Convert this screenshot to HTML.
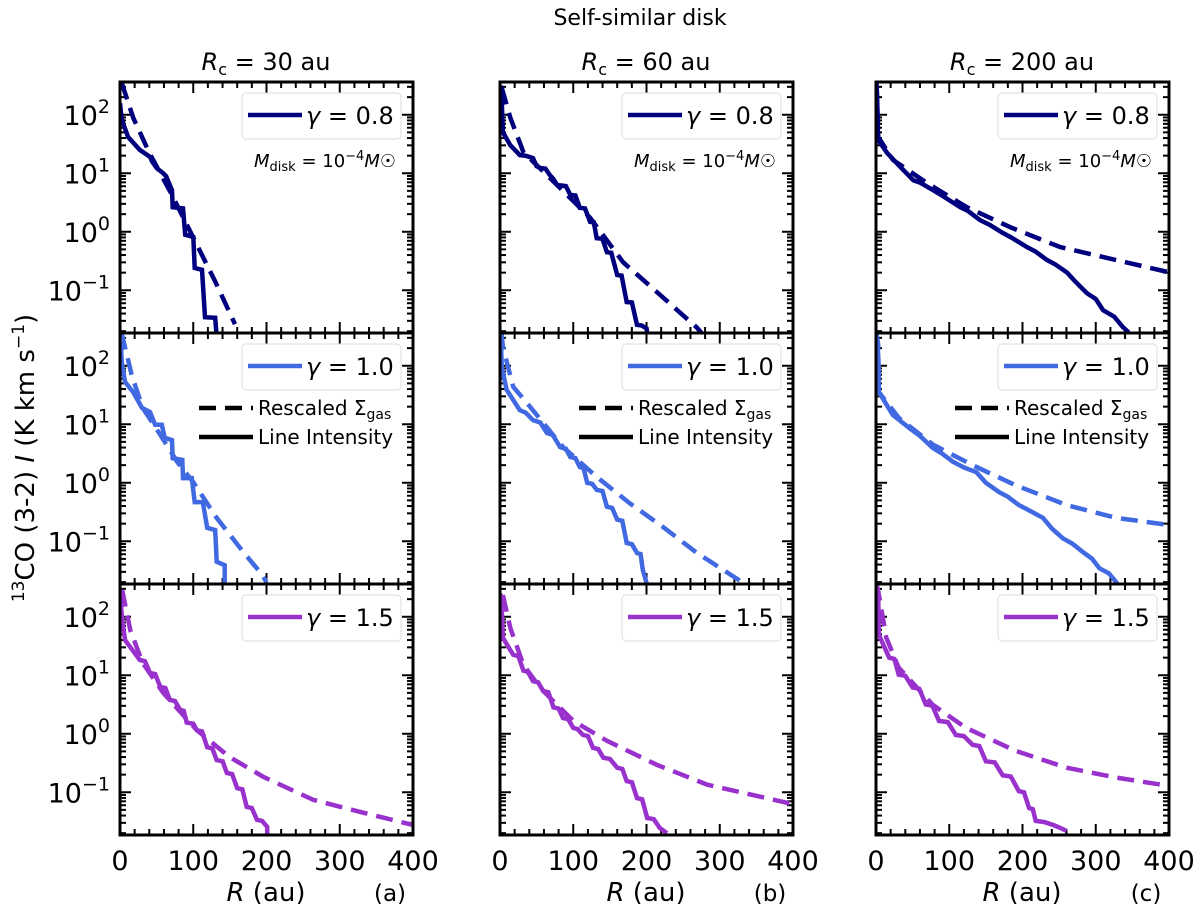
<!DOCTYPE html>
<html><head><meta charset="utf-8">
<style>
html,body{margin:0;padding:0;background:#fff;}
svg{display:block;font-family:"DejaVu Sans","Liberation Sans",sans-serif;}
</style></head>
<body>
<svg id="fig" width="1200" height="904" viewBox="0 0 1200 904" xmlns="http://www.w3.org/2000/svg">
<text x="640" y="25" font-size="22" text-anchor="middle">Self-similar disk</text>
<text transform="translate(34,458) rotate(-90)" font-size="26" text-anchor="middle"><tspan font-size="17" dy="-10">13</tspan><tspan dy="10">CO (3-2) </tspan><tspan font-style="italic">I</tspan><tspan> (K km s</tspan><tspan font-size="17" dy="-10">−1</tspan><tspan dy="10">)</tspan></text>
</svg>
<script>
// ---- data (R in au, log10 intensity) ----
const colTitles = ["30", "60", "200"];
const panelTags = ["(a)", "(b)", "(c)"];
const gammaLabels = ["0.8", "1.0", "1.5"];
const xTicks = [0, 100, 200, 300, 400];
const yTickExps = [2, 1, 0, -1];

const solidR_00 = [0,2,4,11,27,41,44,50,59,63,71,72,86,89,100,102,112,116,130,132];
const solidL_00 = [2.2,1.95,1.86,1.62,1.4,1.28,1.2,1.09,1.0,0.95,0.71,0.42,0.4,-0.05,-0.09,-0.62,-0.65,-1.46,-1.47,-1.8];
const dashR_00 = [2.5,18,40,70,100,130,157];
const dashL_00 = [2.54,1.95,1.35,0.65,-0.1,-0.85,-1.58];

const solidR_01 = [1,2,4,14,27,35,45,50,55,62,68,73,78,90,96,103,109,116,123,128,132,140,146,152,160,166,173,180,187,193,200,202];
const solidL_01 = [2.5,2.34,1.7,1.48,1.31,1.3,1.26,1.12,1.09,1.08,0.97,0.9,0.8,0.78,0.63,0.62,0.41,0.4,0.17,0.16,-0.11,-0.12,-0.35,-0.36,-0.74,-0.75,-1.2,-1.21,-1.59,-1.6,-1.65,-1.8];
const dashR_01 = [2.5,14,32,78,123,168,214,269,280];
const dashL_01 = [2.46,1.95,1.36,0.8,0.24,-0.52,-1.03,-1.64,-1.8];

const solidR_02 = [0.5,1.4,3,15,33,51,60,78,90,115,125,142,155,173,185,206,218,233,245,261,272,288,300,310,325,337,345];
const solidL_02 = [2.56,2.37,1.57,1.35,1.11,0.88,0.84,0.71,0.62,0.42,0.36,0.2,0.12,-0.02,-0.1,-0.26,-0.34,-0.48,-0.56,-0.7,-0.85,-1.05,-1.15,-1.34,-1.45,-1.63,-1.72];
const dashR_02 = [0.5,3,23,70,124,183,251,296,399];
const dashL_02 = [2.56,1.62,1.23,0.83,0.42,0.08,-0.26,-0.39,-0.69];

const solidR_10 = [0.5,2.5,7,18,30,41,48,57,61,71,72,85,86,98,102,113,119,130,132,143,143];
const solidL_10 = [2.5,2.06,1.72,1.55,1.28,1.21,0.99,0.99,0.77,0.73,0.42,0.39,0.08,0.08,-0.33,-0.33,-0.77,-0.81,-1.35,-1.41,-1.8];
const dashR_10 = [2,4,16,31,55,78,100,132,168,194,200];
const dashL_10 = [2.56,2.47,1.84,1.28,0.82,0.36,0.01,-0.6,-1.18,-1.57,-1.7];

const solidR_11 = [1,2.5,9,27,35,45,55,64,72,82,90,96,103,109,114,119,126,132,140,146,153,160,167,173,180,187,192,195,200,202];
const solidL_11 = [2.5,1.98,1.59,1.24,1.2,1.07,1.03,0.85,0.82,0.61,0.58,0.44,0.42,0.27,0.25,0,-0.02,-0.12,-0.14,-0.41,-0.43,-0.63,-0.65,-1.03,-1.05,-1.2,-1.22,-1.49,-1.71,-1.8];
const dashR_11 = [2,4,18,41,86,132,177,223,269,332,340];
const dashL_11 = [2.56,2.32,1.64,1.3,0.61,0.1,-0.35,-0.76,-1.2,-1.71,-1.8];

const solidR_12 = [0.5,3,4,23,45,60,78,90,105,120,137,150,168,180,195,210,228,240,255,268,282,295,305,318,328,332];
const solidL_12 = [2.56,2.18,1.55,1.16,0.94,0.8,0.59,0.5,0.36,0.26,0.18,0.0,-0.16,-0.24,-0.38,-0.48,-0.6,-0.78,-0.95,-1.04,-1.18,-1.3,-1.46,-1.55,-1.7,-1.8];
const dashR_12 = [0.5,3,4,31,78,132,190,260,328,399];
const dashL_12 = [2.56,2.36,1.55,1.11,0.65,0.3,-0.04,-0.38,-0.6,-0.72];

const solidR_20 = [0.5,3,7,27,34,41,48,55,62,68,75,82,87,91,100,105,112,119,126,132,140,146,153,160,167,173,180,187,194,201,201];
const solidL_20 = [2.3,1.95,1.6,1.26,1.24,1.04,1.02,0.8,0.78,0.58,0.56,0.41,0.39,0.19,0.17,0.06,0.04,-0.23,-0.25,-0.45,-0.47,-0.67,-0.69,-0.93,-0.95,-1.25,-1.27,-1.47,-1.49,-1.59,-1.8];
const dashR_20 = [3,14,31,59,105,150,196,264,332,400];
const dashL_20 = [2.46,1.77,1.21,0.7,0.06,-0.4,-0.74,-1.13,-1.35,-1.56];

const solidR_21 = [0.5,3,4,18,25,32,38,45,52,59,66,73,80,86,93,100,106,113,120,127,134,141,150,160,167,173,180,187,194,201,210,218,228];
const solidL_21 = [2.4,1.98,1.64,1.35,1.33,1.08,1.06,0.9,0.88,0.73,0.71,0.45,0.43,0.27,0.25,0.1,0.08,-0.02,-0.04,-0.24,-0.26,-0.41,-0.43,-0.58,-0.6,-0.81,-0.83,-1.1,-1.12,-1.44,-1.46,-1.61,-1.7];
const dashR_21 = [4,14,32,55,100,146,214,283,392,400];
const dashL_21 = [2.37,1.81,1.18,0.78,0.22,-0.12,-0.53,-0.87,-1.18,-1.2];

const solidR_22 = [0.5,3,4,18,25,31,40,50,59,68,77,86,98,109,120,132,141,150,162,173,184,195,202,209,214,218,230,242,250,260];
const solidL_22 = [2.56,2.37,1.69,1.3,1.28,1.01,0.99,0.79,0.77,0.5,0.48,0.22,0.2,-0.02,-0.04,-0.19,-0.21,-0.47,-0.49,-0.71,-0.73,-0.98,-1.0,-1.27,-1.29,-1.49,-1.51,-1.56,-1.6,-1.66];
const dashR_22 = [0.5,3,14,31,78,123,190,260,328,399];
const dashL_22 = [2.56,2.44,1.64,1.13,0.49,0.1,-0.29,-0.58,-0.75,-0.89];

const panelData = [
  [[solidR_00,solidL_00,dashR_00,dashL_00],[solidR_01,solidL_01,dashR_01,dashL_01],[solidR_02,solidL_02,dashR_02,dashL_02]],
  [[solidR_10,solidL_10,dashR_10,dashL_10],[solidR_11,solidL_11,dashR_11,dashL_11],[solidR_12,solidL_12,dashR_12,dashL_12]],
  [[solidR_20,solidL_20,dashR_20,dashL_20],[solidR_21,solidL_21,dashR_21,dashL_21],[solidR_22,solidL_22,dashR_22,dashL_22]]
];
const rowColors = ["#00007f", "#4169e1", "#9932cc"];

// ---- layout ----
const NS = "http://www.w3.org/2000/svg";
const svg = document.getElementById('fig');
const colLeft = [120, 500, 876];
const rowTop = [82, 333, 584];
const PW = 293, PH = 251;
const LOGTOP = 2.56, DEC = 58.5;
function mk(tag, attrs, parent) {
  const e = document.createElementNS(NS, tag);
  for (const k in attrs) e.setAttribute(k, attrs[k]);
  (parent || svg).appendChild(e);
  return e;
}
function xS(c, r) { return colLeft[c] + r / 400 * PW; }
function yS(row, l) { return rowTop[row] + (LOGTOP - l) * DEC; }

const defs = mk('defs', {});
for (let row = 0; row < 3; row++) {
  for (let c = 0; c < 3; c++) {
    const x0 = colLeft[c], y0 = rowTop[row];
    const g = mk('g', {});
    
    
    const cp = mk('clipPath', {id: 'cp' + row + c}, defs);
    mk('rect', {x: x0, y: y0, width: PW, height: PH}, cp);
    const tk = mk('g', {stroke: '#000', 'stroke-width': 2}, g);
    
    
    for (let r = 0; r <= 400; r += 20) {
      const x = xS(c, r), len = (r % 100 === 0) ? 11 : 6;
      mk('line', {x1: x, y1: y0 + PH, x2: x, y2: y0 + PH - len}, tk);
      mk('line', {x1: x, y1: y0, x2: x, y2: y0 + len}, tk);
    }
    for (let e = -2; e <= 2; e++) {
      for (let m = 1; m <= 9; m++) {
        const l = e + Math.log10(m);
        const y = yS(row, l);
        if (y < y0 + 1 || y > y0 + PH - 1) continue;
        const len = m === 1 ? 11 : 6;
        mk('line', {x1: x0, y1: y, x2: x0 + len, y2: y}, tk);
        mk('line', {x1: x0 + PW, y1: y, x2: x0 + PW - len, y2: y}, tk);
      }
    }
    const [sR, sL, dR, dL] = panelData[row][c];
    const cg = mk('g', {'clip-path': 'url(#cp' + row + c + ')'}, g);
    const dpts = dR.map((r, i) => xS(c, r).toFixed(1) + ',' + yS(row, dL[i]).toFixed(1)).join(' ');
    const dl = mk('polyline', {points: dpts, fill: 'none', stroke: rowColors[row], 'stroke-width': 4.5, 'stroke-dasharray': '17,9'}, cg);
    
    
    const spts = sR.map((r, i) => xS(c, r).toFixed(1) + ',' + yS(row, sL[i]).toFixed(1)).join(' ');
    const sl = mk('polyline', {points: spts, fill: 'none', stroke: rowColors[row], 'stroke-width': 4.5, 'stroke-linejoin': 'miter'}, cg);
    
    
    const lg = mk('g', {}, g);
    
    
    const lx = x0 + 122;
    mk('rect', {x: lx, y: y0 + 11, width: 159, height: 46, rx: 4, fill: 'rgba(255,255,255,0.85)', stroke: '#dcdcdc', 'stroke-width': 1}, lg);
    mk('line', {x1: lx + 6, y1: y0 + 33, x2: lx + 60, y2: y0 + 33, stroke: rowColors[row], 'stroke-width': 4.5}, lg);
    const lt = mk('text', {x: lx + 64, y: y0 + 42, 'font-size': 24}, lg);
    lt.innerHTML = '<tspan font-style="italic">γ</tspan> = ' + gammaLabels[row];
    if (row === 0) {
      const mt = mk('text', {x: x0 + 276, y: y0 + 85, 'font-size': 18, 'text-anchor': 'end'}, g);
      
      
      mt.innerHTML = '<tspan font-style="italic">M</tspan><tspan font-size="13" dy="4">disk</tspan><tspan dy="-4"> = 10</tspan><tspan font-size="13" dy="-7">−4</tspan><tspan dy="7" font-style="italic">M</tspan><tspan>☉</tspan>';
    }
    if (row === 1) {
      const sg = mk('g', {}, g);
      
      
      mk('line', {x1: x0 + 79, y1: y0 + 75, x2: x0 + 133, y2: y0 + 75, stroke: '#000', 'stroke-width': 4.5, 'stroke-dasharray': '17,9'}, sg);
      mk('line', {x1: x0 + 79, y1: y0 + 104, x2: x0 + 133, y2: y0 + 104, stroke: '#000', 'stroke-width': 4.5}, sg);
      const t1 = mk('text', {x: x0 + 138, y: y0 + 82, 'font-size': 20}, sg);
      t1.innerHTML = 'Rescaled Σ<tspan font-size="14" dy="4">gas</tspan>';
      const t2 = mk('text', {x: x0 + 138, y: y0 + 111, 'font-size': 20}, sg);
      t2.textContent = 'Line Intensity';
    }
    mk('rect', {x: x0, y: y0, width: PW, height: PH, fill: 'none', stroke: '#000', 'stroke-width': 3}, g);
    if (c === 0) {
      yTickExps.forEach(e => {
        const t = mk('text', {x: x0 - 10, y: yS(row, e) + 10, 'font-size': 27, 'text-anchor': 'end'});
        
        
        t.innerHTML = '10<tspan font-size="19" dy="-12">' + (e < 0 ? '−' + (-e) : e) + '</tspan>';
      });
    }
    if (row === 2) {
      xTicks.forEach(v => {
        const t = mk('text', {x: xS(c, v), y: y0 + PH + 35, 'font-size': 27, 'text-anchor': 'middle'});
        
        
        t.textContent = v;
      });
      const xt = mk('text', {x: x0 + 146, y: y0 + PH + 66, 'font-size': 26, 'text-anchor': 'middle'});
      
      
      xt.innerHTML = '<tspan font-style="italic">R</tspan> (au)';
      const pt = mk('text', {x: x0 + 270, y: y0 + PH + 66, 'font-size': 23, 'text-anchor': 'middle'});
      
      
      pt.textContent = panelTags[c];
    }
    if (row === 0) {
      const ct = mk('text', {x: x0 + 146, y: y0 - 12, 'font-size': 24, 'text-anchor': 'middle'});
      
      
      ct.innerHTML = '<tspan font-style="italic">R</tspan><tspan font-size="16" dy="5">c</tspan><tspan dy="-5"> = ' + colTitles[c] + ' au</tspan>';
    }
  }
}
</script>
</body></html>
